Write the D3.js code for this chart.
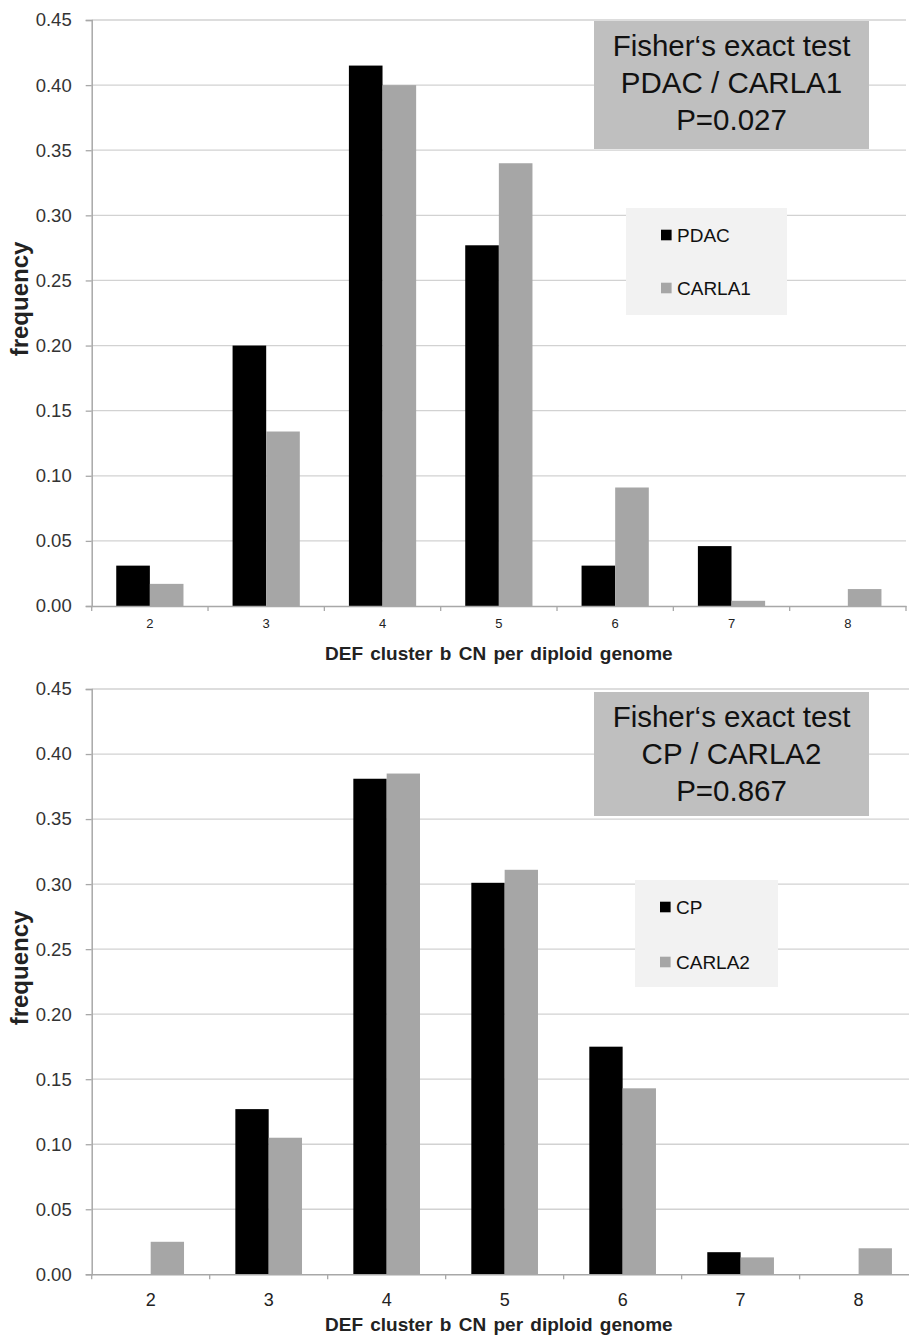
<!DOCTYPE html>
<html>
<head>
<meta charset="utf-8">
<script src="https://cdn.jsdelivr.net/npm/d3@7"></script>
<style>
  body { margin: 0; background: #fff; }
  svg { display: block; font-family: "Liberation Sans", Arial, sans-serif; }
</style>
</head>
<body>
<script>
// data
var categories = ["2", "3", "4", "5", "6", "7", "8"];
var pdac   = [0.031, 0.200, 0.415, 0.277, 0.031, 0.046, 0.000];
var carla1 = [0.017, 0.134, 0.400, 0.340, 0.091, 0.004, 0.013];
var cp     = [0.000, 0.127, 0.381, 0.301, 0.175, 0.017, 0.000];
var carla2 = [0.025, 0.105, 0.385, 0.311, 0.143, 0.013, 0.020];
var yTicks = [0, 0.05, 0.10, 0.15, 0.20, 0.25, 0.30, 0.35, 0.40, 0.45];
var xTitle = "DEF cluster b CN per diploid genome";
var yTitle = "frequency";

var W = 909, H = 1337;
var black = "#000000", grey = "#a6a6a6";

var svg = d3.select("body").append("svg")
  .attr("width", W)
  .attr("height", H);

var panels = [
  {
    top: 20, bottom: 606, left: 91.7, right: 906, groupFrac: 0.578,
    series: [{name: "PDAC", values: pdac, color: black}, {name: "CARLA1", values: carla1, color: grey}],
    xFont: 13, xLabelDy: 22, titleY: 660, freqY: 299,
    box: {x: 594, y: 21, w: 275, h: 128, base: 56, lines: ["Fisher\u2018s exact test", "PDAC / CARLA1", "P=0.027"]},
    legend: {x: 626, y: 208, w: 161, h: 107, sx: 661, rows: [235, 288]}
  },
  {
    top: 689, bottom: 1274.3, left: 91.7, right: 917.6, groupFrac: 0.565,
    series: [{name: "CP", values: cp, color: black}, {name: "CARLA2", values: carla2, color: grey}],
    xFont: 18, xLabelDy: 32, titleY: 1331, freqY: 968,
    box: {x: 594, y: 692, w: 275, h: 124, base: 727, lines: ["Fisher\u2018s exact test", "CP / CARLA2", "P=0.867"]},
    legend: {x: 635, y: 880, w: 143, h: 107, sx: 660, rows: [907, 962]}
  }
];

panels.forEach(drawPanel);

function drawPanel(p) {
  var g = svg.append("g");

  var x = d3.scaleBand().domain(categories).range([p.left, p.right]).padding(0);
  var step = x.step();
  var gap = step * (1 - p.groupFrac) / 2;
  var x1 = d3.scaleBand().domain(p.series.map(function(s) { return s.name; }))
    .range([gap, step - gap]).padding(0);
  var y = d3.scaleLinear().domain([0, 0.45]).range([p.bottom, p.top]);

  // gridlines
  g.append("g").selectAll("line").data(yTicks.slice(1)).enter().append("line")
    .attr("x1", p.left).attr("x2", p.right)
    .attr("y1", function(d) { return y(d); })
    .attr("y2", function(d) { return y(d); })
    .attr("stroke", "#d2d2d2").attr("stroke-width", 1.3);

  // bars
  p.series.forEach(function(s) {
    g.append("g").selectAll("rect").data(s.values).enter().append("rect")
      .attr("x", function(d, i) { return x(categories[i]) + x1(s.name); })
      .attr("width", x1.bandwidth())
      .attr("y", function(d) { return y(d); })
      .attr("height", function(d) { return y(0) - y(d); })
      .attr("fill", s.color);
  });

  // y axis
  var yAxis = g.append("g")
    .attr("transform", "translate(" + p.left + ",0)")
    .call(d3.axisLeft(y).tickValues(yTicks).tickSize(6).tickPadding(14).tickFormat(d3.format(".2f")));
  yAxis.select(".domain").attr("stroke", "#a8a8a8").attr("stroke-width", 1.5);
  yAxis.selectAll(".tick line").attr("stroke", "#a8a8a8").attr("stroke-width", 1.3);
  yAxis.selectAll("text").attr("font-size", 18.5).attr("fill", "#333").attr("font-family", null);

  // x axis: labels at band centres, ticks at band edges
  var xAxis = g.append("g")
    .attr("transform", "translate(0," + p.bottom + ")")
    .call(d3.axisBottom(x).tickSize(0).tickPadding(p.xLabelDy - p.xFont * 0.72));
  xAxis.select(".domain").attr("stroke", "#a8a8a8").attr("stroke-width", 1.5);
  xAxis.selectAll("text").attr("font-size", p.xFont).attr("fill", "#222").attr("font-family", null);

  var edges = categories.map(function(c) { return x(c); }).concat([x.range()[1]]);
  g.append("g").selectAll("line").data(edges).enter().append("line")
    .attr("x1", function(d) { return d; }).attr("x2", function(d) { return d; })
    .attr("y1", p.bottom).attr("y2", p.bottom + 5)
    .attr("stroke", "#a8a8a8").attr("stroke-width", 1.3);

  // axis titles
  g.append("text")
    .attr("x", (p.left + Math.min(p.right, 906)) / 2)
    .attr("y", p.titleY)
    .attr("text-anchor", "middle")
    .attr("font-size", 19).attr("font-weight", "bold")
    .attr("word-spacing", 2)
    .attr("fill", "#222")
    .text(xTitle);

  g.append("text")
    .attr("transform", "translate(28," + p.freqY + ") rotate(-90)")
    .attr("text-anchor", "middle")
    .attr("font-size", 24).attr("font-weight", "bold")
    .attr("fill", "#222")
    .text(yTitle);

  // Fisher test annotation box
  var b = p.box;
  g.append("rect").attr("x", b.x).attr("y", b.y).attr("width", b.w).attr("height", b.h)
    .attr("fill", "#bfbfbf");
  g.append("g").selectAll("text").data(b.lines).enter().append("text")
    .attr("x", b.x + b.w / 2)
    .attr("y", function(d, i) { return b.base + i * 37; })
    .attr("text-anchor", "middle")
    .attr("font-size", 29.5)
    .attr("fill", "#111")
    .text(function(d) { return d; });

  // legend
  var L = p.legend;
  g.append("rect").attr("x", L.x).attr("y", L.y).attr("width", L.w).attr("height", L.h)
    .attr("fill", "#f2f2f2");
  var items = g.append("g").selectAll("g").data(p.series).enter().append("g")
    .attr("transform", function(d, i) { return "translate(" + L.sx + "," + L.rows[i] + ")"; });
  items.append("rect").attr("x", 0).attr("y", -5.3).attr("width", 10.6).attr("height", 10.6)
    .attr("fill", function(d) { return d.color; });
  items.append("text").attr("x", 16).attr("y", 6.8)
    .attr("font-size", 19).attr("fill", "#111")
    .text(function(d) { return d.name; });
}
</script>
</body>
</html>
